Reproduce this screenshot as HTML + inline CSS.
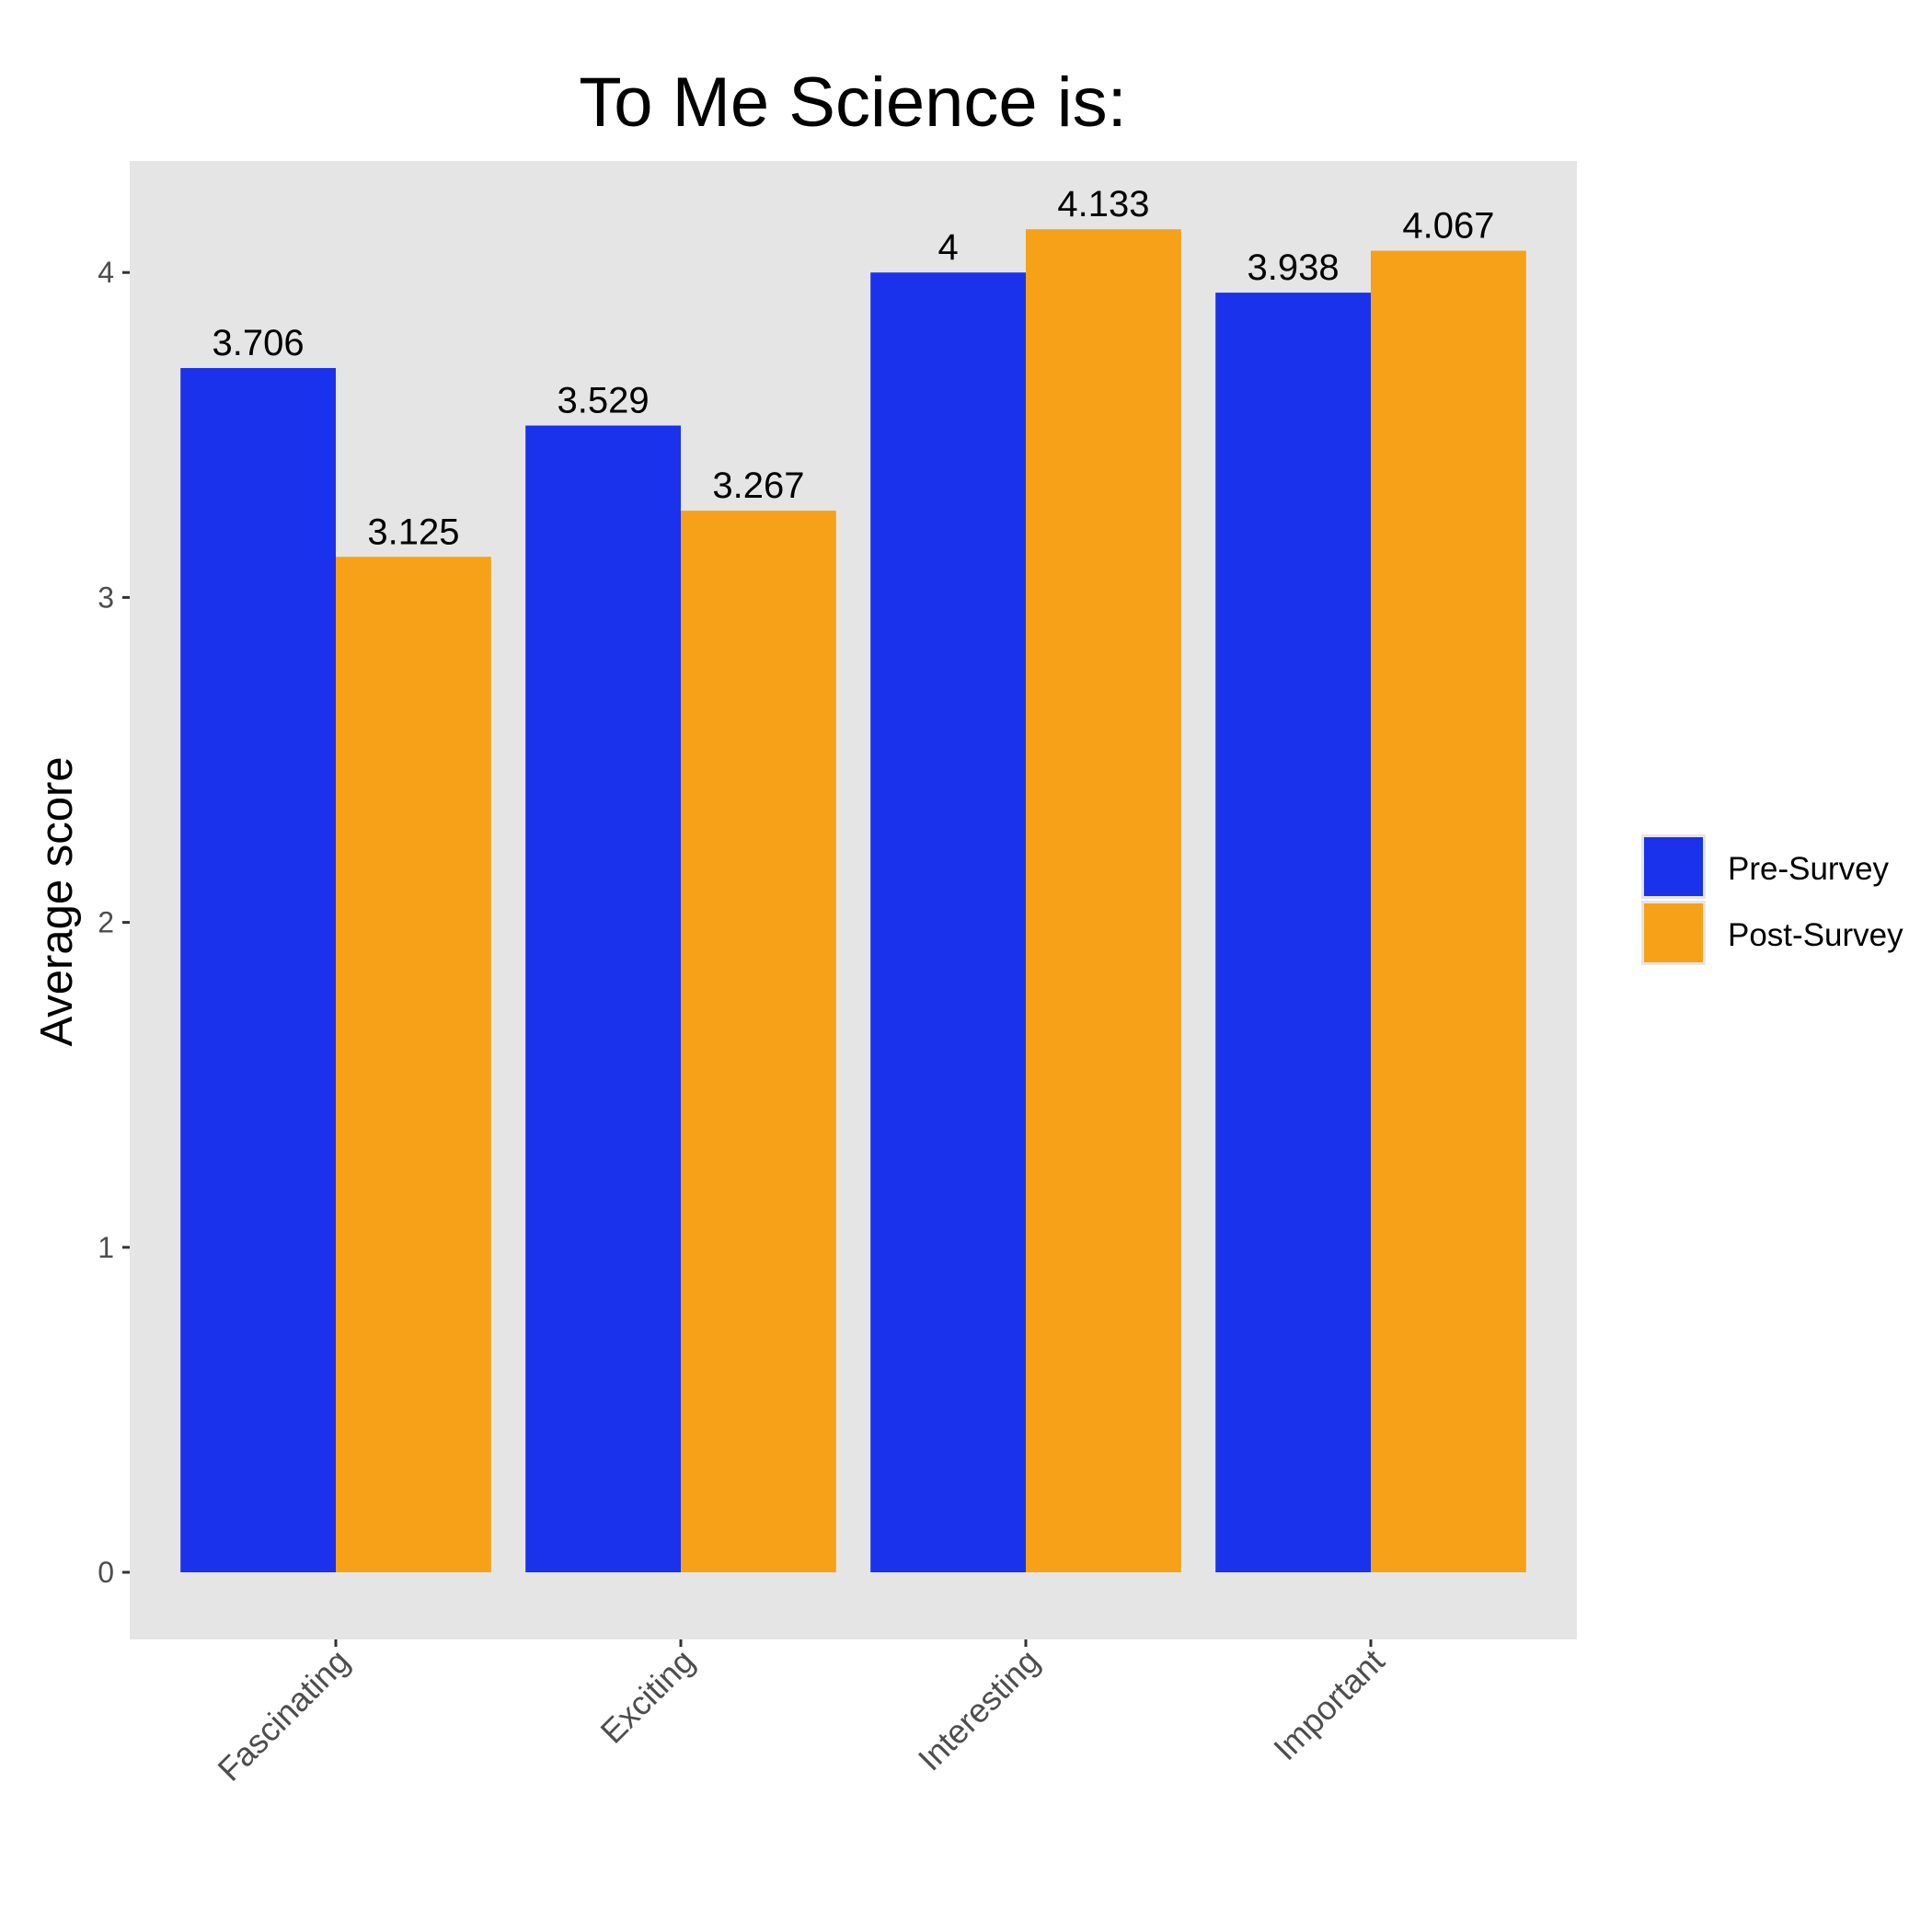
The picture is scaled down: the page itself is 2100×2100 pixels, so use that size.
<!DOCTYPE html>
<html><head><meta charset="utf-8"><style>
html,body{margin:0;padding:0;background:#fff;}
svg{display:block;font-family:"Liberation Sans",Arial,sans-serif;}
</style></head><body>
<svg id="chart" width="2100" height="2100" viewBox="0 0 2100 2100">
<rect width="2100" height="2100" fill="#fff"/>
<text x="927" y="137" font-size="76" text-anchor="middle" fill="#000">To Me Science is:</text>
<rect x="141" y="175" width="1573" height="1607" fill="#e5e5e5"/>
<g id="marks"></g>
<text transform="translate(78,980) rotate(-90)" font-size="49" text-anchor="middle" fill="#000">Average score</text>
<g>
<rect x="1784" y="907" width="70" height="70" fill="#e5e5e5"/>
<rect x="1787" y="910" width="64" height="64" fill="#1a32ec"/>
<text x="1878" y="956" font-size="35" fill="#000">Pre-Survey</text>
<rect x="1784" y="979" width="70" height="70" fill="#e5e5e5"/>
<rect x="1787" y="982" width="64" height="64" fill="#f6a118"/>
<text x="1878" y="1028" font-size="35" fill="#000">Post-Survey</text>
</g>
</svg>
<script>
const categories = ["Fascinating","Exciting","Interesting","Important"];
const preValues = [3.706, 3.529, 4, 3.938];
const postValues = [3.125, 3.267, 4.133, 4.067];
const preLabels = ["3.706","3.529","4","3.938"];
const postLabels = ["3.125","3.267","4.133","4.067"];
const yTicks = [0,1,2,3,4];

const NS = "http://www.w3.org/2000/svg";
const g = document.getElementById('marks');
const y = v => 1709 - v * 353.2;
const xc = i => 365 + i * 375;
const bw = 168.8;
function mk(tag, attrs){const e=document.createElementNS(NS,tag);for(const k in attrs)e.setAttribute(k,attrs[k]);g.appendChild(e);return e;}

yTicks.forEach(t=>{
  const l = mk('line',{x1:133,x2:141,y1:y(t),y2:y(t),stroke:'#333','stroke-width':3});
  
  
  const tx = mk('text',{x:124,y:y(t)+11,'font-size':32,'text-anchor':'end',fill:'#4d4d4d'});
  tx.textContent = t;
  
  
});

categories.forEach((c,i)=>{
  const cx = xc(i);
  [[preValues[i],preLabels[i],cx-bw,'#1a32ec','pre'],[postValues[i],postLabels[i],cx,'#f6a118','post']].forEach(([v,lab,x0,col,s])=>{
    const r = mk('rect',{x:x0,y:y(v),width:bw,height:y(0)-y(v),fill:col});
    
    
    const t = mk('text',{x:x0+bw/2,y:y(v)-14,'font-size':40,'text-anchor':'middle',fill:'#000'});
    t.textContent = lab;
    
    
  });
  const tk = mk('line',{x1:cx,x2:cx,y1:1782,y2:1790,stroke:'#333','stroke-width':3});
  
  
  const xl = mk('text',{transform:`translate(${cx+17},${1808}) rotate(-45)`,'font-size':36,'text-anchor':'end',fill:'#4d4d4d'});
  xl.textContent = c;
  
  
});
</script>
</body></html>
